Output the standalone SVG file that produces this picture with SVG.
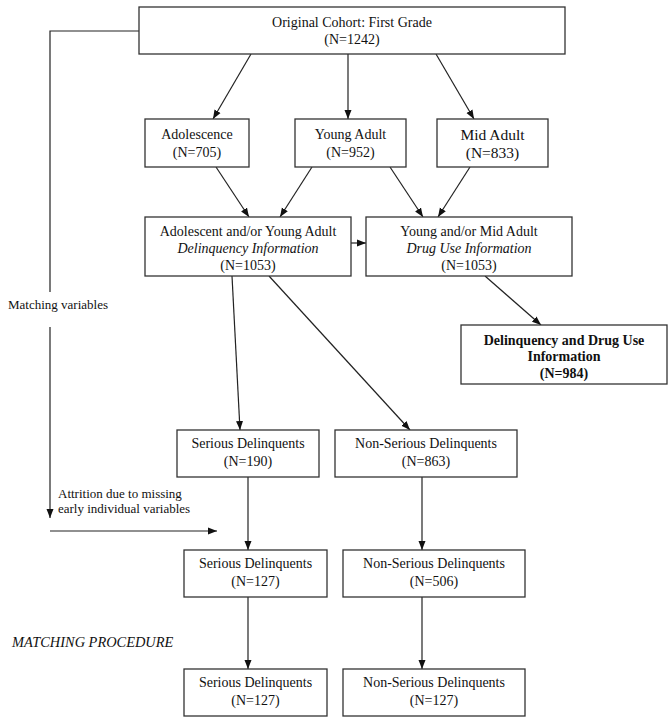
<svg xmlns="http://www.w3.org/2000/svg" width="672" height="722" viewBox="0 0 672 722">
<defs>
<marker id="ah" markerUnits="userSpaceOnUse" markerWidth="9" markerHeight="9" viewBox="0 0 9 9" refX="9" refY="4.5" orient="auto">
<path d="M0,1 L9,4.5 L0,8 Z" fill="#111"/>
</marker>
<style>
.box{fill:#fff;stroke:#333;stroke-width:1.3}
.t{font-family:"Liberation Serif","DejaVu Serif","Times New Roman",serif;font-size:14px;fill:#111;text-anchor:middle}
.l{font-family:"Liberation Serif","DejaVu Serif","Times New Roman",serif;font-size:13px;fill:#111}
.i{font-style:italic}
.b{font-weight:bold}
.c{fill:none;stroke:#222;stroke-width:1.2}
.ca{fill:none;stroke:#222;stroke-width:1.2;marker-end:url(#ah)}
</style>
</defs>
<rect width="672" height="722" fill="#fff"/>
<g id="connectors">
<polyline class="c" points="139,31 50,31 50,292"/>
<line class="ca" x1="50" y1="327" x2="50" y2="518"/>
<line class="ca" x1="50" y1="531" x2="217" y2="531"/>
<line class="ca" x1="251" y1="54" x2="213" y2="119"/>
<line class="ca" x1="348" y1="54" x2="348" y2="119"/>
<line class="ca" x1="436" y1="54" x2="474" y2="119"/>
<line class="ca" x1="216" y1="167" x2="249" y2="217"/>
<line class="ca" x1="312" y1="167" x2="280" y2="217"/>
<line class="ca" x1="390" y1="167" x2="423" y2="217"/>
<line class="ca" x1="470" y1="167" x2="438" y2="217"/>
<line class="ca" x1="351" y1="243" x2="366" y2="243"/>
<line class="ca" x1="485" y1="276" x2="541" y2="325"/>
<line class="ca" x1="232" y1="276" x2="240" y2="430"/>
<line class="ca" x1="269" y1="276" x2="410" y2="430"/>
<line class="ca" x1="248" y1="477" x2="248" y2="550"/>
<line class="ca" x1="422" y1="477" x2="422" y2="550"/>
<line class="ca" x1="248" y1="597" x2="248" y2="669"/>
<line class="ca" x1="422" y1="597" x2="422" y2="669"/>
</g>
<g id="cohort">
<rect class="box" x="139" y="7" width="426" height="47"/>
<text class="t" x="352" y="27">Original Cohort: First Grade</text>
<text class="t" x="352" y="44">(N=1242)</text>
</g>
<g id="adolescence">
<rect class="box" x="145" y="119" width="104" height="48"/>
<text class="t" x="197" y="139">Adolescence</text>
<text class="t" x="197" y="157">(N=705)</text>
</g>
<g id="youngadult">
<rect class="box" x="295" y="119" width="111" height="48"/>
<text class="t" x="350.5" y="139">Young Adult</text>
<text class="t" x="350.5" y="157">(N=952)</text>
</g>
<g id="midadult">
<rect class="box" x="437" y="119" width="111" height="48"/>
<text class="t" x="492.5" y="140" style="font-size:15.5px">Mid Adult</text>
<text class="t" x="492.5" y="158" style="font-size:15.5px">(N=833)</text>
</g>
<g id="delinquency-info">
<rect class="box" x="145" y="217" width="206" height="59"/>
<text class="t" x="248" y="236">Adolescent and/or Young Adult</text>
<text class="t i" x="248" y="253">Delinquency Information</text>
<text class="t" x="248" y="270">(N=1053)</text>
</g>
<g id="druguse-info">
<rect class="box" x="366" y="217" width="206" height="59"/>
<text class="t" x="469" y="236">Young and/or Mid Adult</text>
<text class="t i" x="469" y="253">Drug Use Information</text>
<text class="t" x="469" y="270">(N=1053)</text>
</g>
<g id="combined-info">
<rect class="box" x="461" y="325" width="206" height="59"/>
<text class="t b" x="564" y="345">Delinquency and Drug Use</text>
<text class="t b" x="564" y="361">Information</text>
<text class="t b" x="564" y="378">(N=984)</text>
</g>
<g id="matching-variables-label">
<text class="l" x="8" y="309">Matching variables</text>
</g>
<g id="attrition-label">
<text class="l" x="58" y="498">Attrition due to missing</text>
<text class="l" x="58" y="513">early individual variables</text>
</g>
<g id="matching-procedure-label">
<text class="l i" x="12" y="647" style="font-size:14.4px">MATCHING PROCEDURE</text>
</g>
<g id="serious-190">
<rect class="box" x="177" y="430" width="142" height="47"/>
<text class="t" x="248" y="448">Serious Delinquents</text>
<text class="t" x="248" y="466">(N=190)</text>
</g>
<g id="nonserious-863">
<rect class="box" x="335" y="430" width="182" height="47"/>
<text class="t" x="426" y="448">Non-Serious Delinquents</text>
<text class="t" x="426" y="466">(N=863)</text>
</g>
<g id="serious-127a">
<rect class="box" x="184" y="550" width="143" height="47"/>
<text class="t" x="255.5" y="568">Serious Delinquents</text>
<text class="t" x="255.5" y="586">(N=127)</text>
</g>
<g id="nonserious-506">
<rect class="box" x="343" y="550" width="182" height="47"/>
<text class="t" x="434" y="568">Non-Serious Delinquents</text>
<text class="t" x="434" y="586">(N=506)</text>
</g>
<g id="serious-127b">
<rect class="box" x="184" y="669" width="143" height="47"/>
<text class="t" x="255.5" y="687">Serious Delinquents</text>
<text class="t" x="255.5" y="705">(N=127)</text>
</g>
<g id="nonserious-127">
<rect class="box" x="343" y="669" width="182" height="47"/>
<text class="t" x="434" y="687">Non-Serious Delinquents</text>
<text class="t" x="434" y="705">(N=127)</text>
</g>
</svg>
